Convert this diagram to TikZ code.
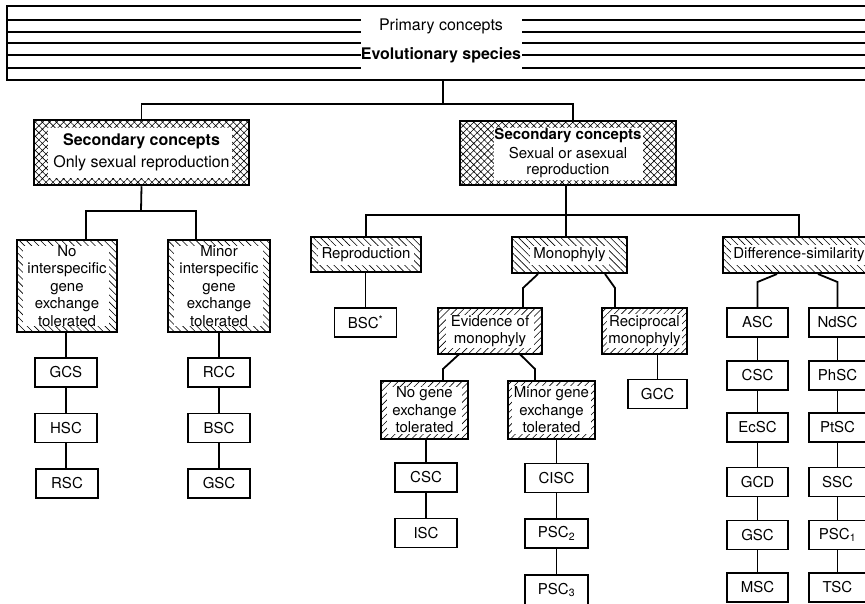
\documentclass[tikz,border=0pt]{standalone}
\usepackage{fontspec}
\setmainfont{TeX Gyre Heros}
\usetikzlibrary{patterns.meta}
\newcommand\boxfont{\fontsize{15}{17.5}\selectfont}
\newcommand\bigfont{\fontsize{16}{18}\selectfont}

\begin{document}
\begin{tikzpicture}[x=1pt,y=-1pt,
  conn/.style={line width=1.8pt},
  plain/.style={draw,line width=1.5pt,minimum width=62pt,minimum height=29pt,inner sep=0pt,font=\boxfont},
  hbox/.style={draw,line width=2pt,inner sep=0pt,align=center,font=\boxfont},
  back/.style={pattern={Lines[angle=-45,distance=5pt,line width=0.6pt]}},
  fwd/.style={pattern={Lines[angle=45,distance=5pt,line width=0.6pt]}},
  cross/.style={pattern={Hatch[angle=45,distance=5pt,line width=0.6pt]}},
  inset/.style n args={4}{path picture={\fill[white]
      ([xshift=#1pt,yshift=#4pt]path picture bounding box.south west) rectangle
      ([xshift=-#2pt,yshift=-#3pt]path picture bounding box.north east);}},
]
\useasboundingbox (0,0) rectangle (865,603);

% ---- primary concepts banner
\node[minimum width=873pt,minimum height=74pt,inner sep=0pt] (hdr) at (443.5,43) {};
\draw[line width=2pt] (hdr.north east) -- (hdr.north west) -- (hdr.south west) -- (hdr.south east);
\foreach \yy in {20,32,43,55,68}{
  \draw[line width=1.2pt] (7,\yy) -- (361,\yy) (522,\yy) -- (880,\yy);
}
\node[font=\bigfont] (pc) at (441,26) {Primary concepts};
\node[font=\bigfont\bfseries] (es) at (441,55) {Evolutionary species};

% ---- secondary concepts
\node[hbox,cross,line width=2.5pt,minimum width=215pt,minimum height=65pt,inset={14}{17}{8}{7},font=\bigfont]
  (sec1) at (141.5,152.5) {\textbf{Secondary concepts}\\[4pt]Only sexual reproduction};
\node[hbox,cross,line width=2.5pt,minimum width=216pt,minimum height=64pt,inset={34}{33}{7}{5}]
  (sec2) at (568,153) {\textbf{Secondary concepts}\\[1.5pt]Sexual or asexual\\[-1pt]reproduction};

% ---- sexual-only branch
\node[hbox,back,minimum width=100pt,minimum height=92pt,inset={6}{8}{6}{6}]
  (nis) at (67,286) {No\\interspecific\\gene\\exchange\\tolerated};
\node[hbox,back,minimum width=102pt,minimum height=92pt,inset={6}{7}{6}{6}]
  (mis) at (219,286) {Minor\\interspecific\\gene\\exchange\\tolerated};
\node[plain] (gcs) at (66,372.5) {GCS};
\node[plain] (hsc) at (66,428) {HSC};
\node[plain] (rsc) at (67,483.5) {RSC};
\node[plain] (rcc) at (219,372.5) {RCC};
\node[plain] (bsc) at (219,428) {BSC};
\node[plain] (gsc) at (219,483.5) {GSC};

% ---- sexual or asexual branch
\node[hbox,back,minimum width=110pt,minimum height=35pt,inset={7}{7}{9}{7}]
  (rep) at (366,254.5) {Reproduction};
\node[hbox,back,minimum width=115pt,minimum height=36pt,inset={18}{18}{9}{8}]
  (mono) at (569.5,255) {Monophyly};
\node[hbox,back,minimum width=152pt,minimum height=36pt,inset={8}{8}{8}{8}]
  (diff) at (799,255) {Difference-similarity};

\node[plain] (bscs) at (365.5,322.5) {BSC\textsuperscript{*}};

\node[hbox,fwd,minimum width=104pt,minimum height=46pt,inset={8}{8}{7}{6}]
  (evid) at (490,331) {Evidence of\\monophyly};
\node[hbox,fwd,minimum width=85pt,minimum height=46pt,inset={5}{5}{6}{6}]
  (recip) at (644.5,331) {Reciprocal\\monophyly};
\node[plain,minimum width=59pt] (gcc) at (657.5,394) {GCC};

\node[hbox,fwd,minimum width=87pt,minimum height=58pt,inset={6}{6}{6}{5}]
  (nog) at (424.5,410) {No gene\\exchange\\tolerated};
\node[hbox,fwd,minimum width=87pt,minimum height=58pt,inset={4}{4}{5}{5}]
  (ming) at (551.5,410) {Minor gene\\exchange\\tolerated};

\node[plain] (cscm) at (426,477.5) {CSC};
\node[plain] (isc) at (426,533) {ISC};
\node[plain,minimum width=63pt] (cisc) at (556.5,478) {CISC};
\node[plain,minimum width=63pt] (psca) at (556.5,533.5) {PSC\textsubscript{2}};
\node[plain,minimum width=63pt,minimum height=30pt] (pscb) at (556.5,590) {PSC\textsubscript{3}};

% difference-similarity columns
\foreach \nm/\lab/\yy in {asc/ASC/322.5, cscd/CSC/375.5, ecsc/EcSC/427.5, gcd/GCD/482, gscd/GSC/535, msc/MSC/587.5}{
  \node[plain,minimum width=61pt] (\nm) at (757.5,\yy) {\lab};
}
\foreach \nm/\lab/\yy in {ndsc/NdSC/322.5, phsc/PhSC/375.5, ptsc/PtSC/427.5, ssc/SSC/482, psco/PSC\textsubscript{1}/535, tsc/TSC/587.5}{
  \node[plain,minimum width=57pt] (\nm) at (837.5,\yy) {\lab};
}

% ---- connectors
\coordinate (top) at (443,104);
\draw[conn] (hdr.south -| top) -- (top);
\draw[conn] (sec1.north) |- (top) -| (sec2.north -| 573,0);

\coordinate (j1) at (141,211);
\draw[conn] (sec1.south) -- (j1);
\draw[conn] (nis.north -| 86,0) |- (j1) -| (mis.north -| 196,0);
\draw[conn] (gcs.north |- nis.south) -- (gcs.north);
\draw[conn] (gcs.south) -- (hsc.north);
\draw[conn] (hsc.south) -- (hsc.south |- rsc.north);
\draw[conn] (rcc.north |- mis.south) -- (rcc.north);
\draw[conn] (rcc.south) -- (bsc.north);
\draw[conn] (bsc.south) -- (gsc.north);

\coordinate (j2) at (566,215);
\draw[conn] (sec2.south -| j2) -- (mono.north -| j2);
\draw[conn] (rep.north) |- (j2) -| (diff.north);
\draw[conn] (bscs.north |- rep.south) -- (bscs.north);

\coordinate (m1) at (523,288);
\coordinate (m2) at (615,288);
\draw[conn] (mono.south -| 538,0) -- (m1) -- (evid.north -| m1);
\draw[conn] (mono.south -| 605,0) -- (m2) -- (recip.north -| m2);
\draw[conn] (gcc.north |- recip.south) -- (gcc.north);

\coordinate (e1) at (443,369);
\coordinate (e2) at (535,369);
\draw[conn] (evid.south -| 459,0) -- (e1) -- (nog.north -| e1);
\draw[conn] (evid.south -| 520,0) -- (e2) -- (ming.north -| e2);
\draw[conn] (cscm.north |- nog.south) -- (cscm.north);
\draw[conn] (cscm.south) -- (isc.north);
\draw[conn] (cisc.north |- ming.south) -- (cisc.north);
\draw[conn] (cisc.south) -- (psca.north);
\draw[conn] (psca.south) -- (pscb.north);

\coordinate (d1) at (757.5,282);
\coordinate (d2) at (837.5,282);
\draw[conn] (diff.south -| 777,0) -- (d1) -- (asc.north);
\draw[conn] (diff.south -| 818,0) -- (d2) -- (ndsc.north);
\draw[conn] (asc.south) -- (cscd.north);
\draw[conn] (cscd.south) -- (ecsc.north);
\draw[conn] (ecsc.south) -- (gcd.north);
\draw[conn] (gcd.south) -- (gscd.north);
\draw[conn] (gscd.south) -- (msc.north);
\draw[conn] (ndsc.south) -- (phsc.north);
\draw[conn] (phsc.south) -- (ptsc.north);
\draw[conn] (ptsc.south) -- (ssc.north);
\draw[conn] (ssc.south) -- (psco.north);
\draw[conn] (psco.south) -- (tsc.north);
\end{tikzpicture}
\end{document}
